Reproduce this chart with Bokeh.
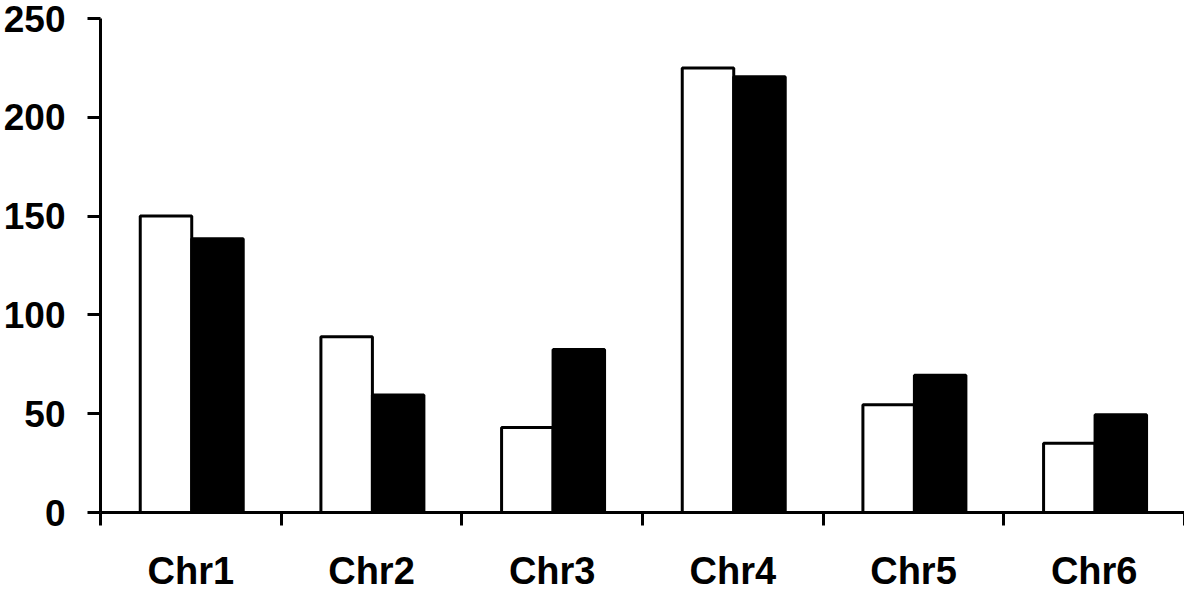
from bokeh.plotting import figure
from bokeh.models import ColumnDataSource, Range1d, FixedTicker
from bokeh.transform import dodge
from bokeh.embed import file_html
from bokeh.resources import INLINE

categories = ["Chr1", "Chr2", "Chr3", "Chr4", "Chr5", "Chr6"]
series_white = [150, 89, 43, 225, 54.5, 35]
series_black = [138.5, 59.5, 82.5, 220.5, 69.5, 49.5]
y_ticks = [0, 50, 100, 150, 200, 250]

centers = [i + 0.5 for i in range(len(categories))]
source = ColumnDataSource(dict(x=centers, white=series_white, black=series_black, cat=categories))

p = figure(width=1184, height=594, output_backend="svg", toolbar_location=None,
           x_range=Range1d(0, len(categories)), y_range=Range1d(0, 250),
           min_border_left=92, min_border_right=0, min_border_top=18, min_border_bottom=10)
p.outline_line_color = None
p.xgrid.visible = False
p.ygrid.visible = False
p.background_fill_color = "white"
p.border_fill_color = "white"

bw = 0.285
p.vbar(x=dodge("x", -bw / 2 + 0.005, range=p.x_range), top="white", width=bw, source=source,
       fill_color="white", line_color="black", line_width=3)
p.vbar(x=dodge("x", bw / 2 + 0.005, range=p.x_range), top="black", width=bw, source=source,
       fill_color="black", line_color="black", line_width=3)

font = "Liberation Sans"
# x axis
xa = p.xaxis[0]
xa.ticker = FixedTicker(ticks=centers, minor_ticks=list(range(len(categories) + 1)))
xa.major_label_overrides = {c: lab for c, lab in zip(centers, categories)}
xa.major_tick_line_color = None
xa.minor_tick_line_color = "black"
xa.minor_tick_line_width = 3
xa.minor_tick_out = 13
xa.minor_tick_in = 0
xa.axis_line_width = 3
xa.axis_line_color = "black"
xa.major_label_text_font = font
xa.major_label_text_font_style = "bold"
xa.major_label_text_font_size = "38px"
xa.major_label_text_color = "black"
xa.major_label_standoff = 24

ya = p.yaxis[0]
ya.ticker = FixedTicker(ticks=y_ticks)
ya.minor_tick_line_color = None
ya.major_tick_line_color = "black"
ya.major_tick_line_width = 3
ya.major_tick_out = 13
ya.major_tick_in = 0
ya.axis_line_width = 3
ya.axis_line_color = "black"
ya.major_label_text_font = font
ya.major_label_text_font_style = "bold"
ya.major_label_text_font_size = "37px"
ya.major_label_text_color = "black"
ya.major_label_standoff = 22

open("out.html", "w").write(file_html(p, INLINE))
